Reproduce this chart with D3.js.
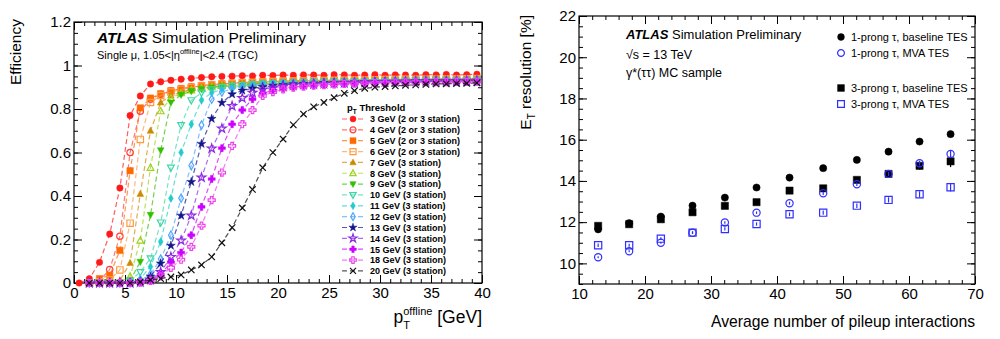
<!DOCTYPE html>
<html>
<head>
<meta charset="utf-8">
<script src="https://cdn.jsdelivr.net/npm/d3@7"></script>
<style>
  body { margin: 0; background: #fff; }
  svg { display: block; font-family: "Liberation Sans", Arial, Helvetica, sans-serif; }
</style>
</head>
<body>
<svg id="chart" width="1000" height="339"></svg>
<script>
// ---------------- left panel data: L1 muon trigger efficiency ----------------
const ptBins = [0.5, 1.5, 2.5, 3.5, 4.5, 5.5, 6.5, 7.5, 8.5, 9.5, 10.5, 11.5, 12.5, 13.5, 14.5, 15.5, 16.5, 17.5, 18.5, 19.5,
                20.5, 21.5, 22.5, 23.5, 24.5, 25.5, 26.5, 27.5, 28.5, 29.5, 30.5, 31.5, 32.5, 33.5, 34.5, 35.5, 36.5, 37.5, 38.5, 39.5];

const thresholdLabels = ['3 GeV (2 or 3 station)', '4 GeV (2 or 3 station)', '5 GeV (2 or 3 station)', '6 GeV (2 or 3 station)',
  '7 GeV (3 station)', '8 GeV (3 station)', '9 GeV (3 station)', '10 GeV (3 station)', '11 GeV (3 station)', '12 GeV (3 station)',
  '13 GeV (3 station)', '14 GeV (3 station)', '15 GeV (3 station)', '18 GeV (3 station)', '20 GeV (3 station)'];

const eff3  = [0, 0.02, 0.095, 0.225, 0.437, 0.77, 0.86, 0.915, 0.925, 0.932, 0.937, 0.941, 0.945, 0.948, 0.95, 0.951, 0.953, 0.952, 0.955, 0.954, 0.956, 0.955, 0.957, 0.956, 0.955, 0.958, 0.957, 0.955, 0.956, 0.958, 0.955, 0.957, 0.956, 0.955, 0.958, 0.957, 0.959, 0.956, 0.958, 0.96];
const eff4  = [null, 0, 0.01, 0.062, 0.215, 0.6, 0.79, 0.845, 0.868, 0.882, 0.892, 0.9, 0.906, 0.911, 0.915, 0.918, 0.921, 0.923, 0.925, 0.926, 0.928, 0.929, 0.93, 0.93, 0.931, 0.932, 0.932, 0.933, 0.934, 0.934, 0.935, 0.935, 0.936, 0.936, 0.937, 0.937, 0.938, 0.938, 0.939, 0.94];
const eff5  = [null, 0, 0.02, 0.035, 0.15, 0.516, 0.805, 0.85, 0.87, 0.884, 0.894, 0.902, 0.908, 0.912, 0.916, 0.919, 0.922, 0.924, 0.926, 0.927, 0.929, 0.93, 0.931, 0.931, 0.932, 0.933, 0.933, 0.934, 0.935, 0.935, 0.936, 0.936, 0.937, 0.937, 0.938, 0.938, 0.939, 0.939, 0.94, 0.941];
const eff6  = [null, 0, 0.005, 0.015, 0.06, 0.275, 0.66, 0.83, 0.862, 0.878, 0.89, 0.898, 0.905, 0.91, 0.914, 0.917, 0.92, 0.922, 0.924, 0.926, 0.927, 0.928, 0.929, 0.93, 0.931, 0.931, 0.932, 0.933, 0.933, 0.934, 0.935, 0.935, 0.936, 0.936, 0.937, 0.937, 0.938, 0.938, 0.939, 0.939];
const eff7  = [null, 0, 0, 0.005, 0.012, 0.092, 0.41, 0.7, 0.83, 0.862, 0.878, 0.889, 0.897, 0.903, 0.908, 0.912, 0.915, 0.918, 0.92, 0.922, 0.923, 0.925, 0.926, 0.927, 0.928, 0.928, 0.929, 0.93, 0.93, 0.931, 0.932, 0.932, 0.933, 0.933, 0.934, 0.934, 0.935, 0.935, 0.936, 0.936];
const eff8  = [null, 0, 0, 0, 0.005, 0.03, 0.195, 0.53, 0.79, 0.85, 0.873, 0.886, 0.895, 0.901, 0.906, 0.91, 0.913, 0.916, 0.918, 0.92, 0.922, 0.923, 0.924, 0.925, 0.926, 0.927, 0.928, 0.928, 0.929, 0.93, 0.93, 0.931, 0.931, 0.932, 0.932, 0.933, 0.933, 0.934, 0.934, 0.935];
const eff9  = [null, 0, 0, 0, 0.002, 0.012, 0.097, 0.313, 0.61, 0.83, 0.865, 0.882, 0.892, 0.899, 0.904, 0.908, 0.912, 0.915, 0.917, 0.919, 0.921, 0.922, 0.923, 0.924, 0.925, 0.926, 0.927, 0.928, 0.928, 0.929, 0.93, 0.93, 0.931, 0.931, 0.932, 0.932, 0.933, 0.933, 0.934, 0.934];
const eff10 = [null, 0, 0, 0, 0, 0.01, 0.05, 0.113, 0.278, 0.53, 0.726, 0.84, 0.875, 0.89, 0.9, 0.906, 0.91, 0.914, 0.916, 0.918, 0.92, 0.921, 0.923, 0.924, 0.925, 0.926, 0.926, 0.927, 0.928, 0.928, 0.929, 0.93, 0.93, 0.931, 0.931, 0.932, 0.932, 0.933, 0.933, 0.934];
const eff11 = [null, 0, 0, 0, 0, 0.005, 0.02, 0.075, 0.19, 0.389, 0.6, 0.73, 0.84, 0.875, 0.89, 0.899, 0.905, 0.91, 0.913, 0.916, 0.918, 0.92, 0.921, 0.922, 0.923, 0.924, 0.925, 0.926, 0.927, 0.927, 0.928, 0.929, 0.929, 0.93, 0.93, 0.931, 0.931, 0.932, 0.932, 0.933];
const eff12 = [null, 0, 0, 0, 0, 0, 0.01, 0.04, 0.11, 0.22, 0.39, 0.54, 0.726, 0.845, 0.878, 0.893, 0.901, 0.907, 0.911, 0.914, 0.917, 0.919, 0.92, 0.922, 0.923, 0.924, 0.925, 0.925, 0.926, 0.927, 0.927, 0.928, 0.929, 0.929, 0.93, 0.93, 0.931, 0.931, 0.932, 0.932];
const eff13 = [null, 0, 0, 0, 0, 0, 0.005, 0.03, 0.09, 0.172, 0.31, 0.465, 0.64, 0.755, 0.829, 0.868, 0.885, 0.895, 0.902, 0.907, 0.911, 0.914, 0.916, 0.918, 0.92, 0.921, 0.922, 0.923, 0.924, 0.925, 0.926, 0.926, 0.927, 0.928, 0.928, 0.929, 0.929, 0.93, 0.93, 0.931];
const eff14 = [null, 0, 0, 0, 0, 0, 0.003, 0.015, 0.05, 0.12, 0.195, 0.31, 0.485, 0.618, 0.71, 0.814, 0.85, 0.875, 0.89, 0.898, 0.904, 0.908, 0.912, 0.914, 0.916, 0.918, 0.92, 0.921, 0.922, 0.923, 0.924, 0.925, 0.925, 0.926, 0.927, 0.927, 0.928, 0.928, 0.929, 0.929];
const eff15 = [null, 0, 0, 0, 0, 0, 0.003, 0.012, 0.04, 0.095, 0.14, 0.22, 0.35, 0.478, 0.62, 0.73, 0.795, 0.845, 0.872, 0.886, 0.895, 0.901, 0.906, 0.909, 0.912, 0.914, 0.916, 0.917, 0.919, 0.92, 0.921, 0.922, 0.922, 0.923, 0.924, 0.924, 0.925, 0.925, 0.926, 0.926];
const eff18 = [null, 0, 0, 0, 0, 0, 0.002, 0.01, 0.03, 0.07, 0.107, 0.166, 0.264, 0.381, 0.508, 0.63, 0.73, 0.795, 0.86, 0.878, 0.89, 0.898, 0.903, 0.907, 0.91, 0.913, 0.915, 0.917, 0.918, 0.919, 0.92, 0.921, 0.922, 0.923, 0.923, 0.924, 0.924, 0.925, 0.925, 0.926];
const eff20 = [null, 0, 0, 0, 0, 0, 0.005, 0.014, 0.02, 0.028, 0.037, 0.06, 0.083, 0.12, 0.185, 0.255, 0.345, 0.43, 0.53, 0.6, 0.662, 0.727, 0.777, 0.81, 0.83, 0.852, 0.872, 0.884, 0.895, 0.9, 0.903, 0.906, 0.909, 0.911, 0.913, 0.915, 0.916, 0.917, 0.918, 0.92];

const effSeries = [eff3, eff4, eff5, eff6, eff7, eff8, eff9, eff10, eff11, eff12, eff13, eff14, eff15, eff18, eff20];

// ---------------- right panel data: tau ET resolution vs pileup ----------------
const muBins    = [12.9, 17.6, 22.4, 27.2, 32.1, 36.9, 41.9, 47.0, 52.1, 56.9, 61.6, 66.3];
const res1pBase = [11.65, 11.95, 12.27, 12.8, 13.19, 13.68, 14.16, 14.62, 15.02, 15.42, 15.91, 16.27];
const res1pMva  = [10.3, 10.59, 11.0, 11.49, 11.98, 12.46, 12.92, 13.4, 13.84, 14.34, 14.86, 15.31];
const res3pBase = [11.82, 11.9, 12.14, 12.48, 12.79, 12.97, 13.53, 13.64, 14.05, 14.34, 14.73, 14.95];
const res3pMva  = [10.88, 10.88, 11.2, 11.49, 11.67, 11.91, 12.38, 12.46, 12.8, 13.08, 13.35, 13.69];
const err1pBase = [0.05, 0.05, 0.05, 0.05, 0.06, 0.06, 0.07, 0.08, 0.09, 0.1, 0.12, 0.15];
const err1pMva  = [0.05, 0.05, 0.05, 0.05, 0.06, 0.06, 0.07, 0.08, 0.09, 0.1, 0.12, 0.16];
const err3pBase = [0.1, 0.08, 0.08, 0.08, 0.09, 0.1, 0.1, 0.11, 0.13, 0.15, 0.18, 0.28];
const err3pMva  = [0.08, 0.07, 0.07, 0.07, 0.08, 0.08, 0.09, 0.1, 0.11, 0.13, 0.15, 0.2];
const resLabels = ['1-prong τ, baseline TES', '1-prong τ, MVA TES', '3-prong τ, baseline TES', '3-prong τ, MVA TES'];

// ---------------- styles ----------------
const effColors  = ['#ff1a1a', '#ff4040', '#ff6a00', '#ff9a40', '#cc8a00', '#9fd11f', '#33c000', '#3fd6a8', '#22cccc', '#4da6ff',
                    '#14148c', '#8a2be2', '#cc00ff', '#ee44ee', '#111111'];
const effMarkers = ['circle', 'circleO', 'square', 'squareO', 'triUp', 'triUpO', 'triDown', 'triDownO', 'diamond', 'diamondO',
                    'star', 'starO', 'cross', 'crossO', 'x'];
const blue = '#2f2fff';

const svg = d3.select('#chart');

// marker path generator (ROOT-like marker shapes)
function markerPath(type, r) {
  const t = type.replace(/O$/, '');
  switch (t) {
    case 'circle': return d3.symbol(d3.symbolCircle, Math.PI * r * r)();
    case 'square': return `M${-r},${-r}h${2 * r}v${2 * r}h${-2 * r}Z`;
    case 'triUp': return `M0,${-r * 1.15}L${r * 1.05},${r * 0.8}L${-r * 1.05},${r * 0.8}Z`;
    case 'triDown': return `M0,${r * 1.15}L${r * 1.05},${-r * 0.8}L${-r * 1.05},${-r * 0.8}Z`;
    case 'diamond': return `M0,${-r * 1.3}L${r * 0.75},0L0,${r * 1.3}L${-r * 0.75},0Z`;
    case 'star': return d3.symbol(d3.symbolStar, r * r * 2.3)();
    case 'cross': {
      const w = r * 0.4, a = r * 1.1;
      return `M${-w},${-a}H${w}V${-w}H${a}V${w}H${w}V${a}H${-w}V${w}H${-a}V${-w}H${-w}Z`;
    }
    case 'x': return `M${-r},${-r}L${r},${r}M${-r},${r}L${r},${-r}`;
  }
}

function drawMarker(g, type, color, x, y, r) {
  const open = /O$/.test(type) || type === 'x';
  g.append('path')
    .attr('d', markerPath(type, r))
    .attr('transform', `translate(${x},${y})`)
    .attr('fill', open ? 'none' : color)
    .attr('stroke', color)
    .attr('stroke-width', open ? 1.2 : 0.5);
}

// frame with inside ticks on all four sides
function drawFrame(x, y, xMajor, xMinor, yMajor, yMinor, yFmt) {
  const [x0, x1] = x.range();
  const [y0, y1] = y.range();
  const g = svg.append('g');
  const clean = sel => {
    sel.select('.domain').remove();
    sel.attr('font-family', null).attr('font-size', 15);
    sel.selectAll('line').attr('stroke', '#000');
    sel.selectAll('text').attr('fill', '#000');
  };

  g.append('g').attr('transform', `translate(0,${y0})`)
    .call(d3.axisBottom(x).tickValues(xMinor).tickSize(-4).tickFormat('')).call(clean);
  g.append('g').attr('transform', `translate(0,${y0})`)
    .call(d3.axisBottom(x).tickValues(xMajor).tickSize(-8).tickPadding(4).tickFormat(d3.format('d'))).call(clean);
  g.append('g').attr('transform', `translate(0,${y1})`)
    .call(d3.axisTop(x).tickValues(xMinor).tickSize(-4).tickFormat('')).call(clean);
  g.append('g').attr('transform', `translate(0,${y1})`)
    .call(d3.axisTop(x).tickValues(xMajor).tickSize(-8).tickFormat('')).call(clean);

  g.append('g').attr('transform', `translate(${x0},0)`)
    .call(d3.axisLeft(y).tickValues(yMinor).tickSize(-4).tickFormat('')).call(clean);
  g.append('g').attr('transform', `translate(${x0},0)`)
    .call(d3.axisLeft(y).tickValues(yMajor).tickSize(-8).tickPadding(3).tickFormat(yFmt)).call(clean);
  g.append('g').attr('transform', `translate(${x1},0)`)
    .call(d3.axisRight(y).tickValues(yMinor).tickSize(-4).tickFormat('')).call(clean);
  g.append('g').attr('transform', `translate(${x1},0)`)
    .call(d3.axisRight(y).tickValues(yMajor).tickSize(-8).tickFormat('')).call(clean);

  g.append('rect')
    .attr('x', x0).attr('y', y1)
    .attr('width', x1 - x0).attr('height', y0 - y1)
    .attr('fill', 'none').attr('stroke', '#000').attr('stroke-width', 1.2);
}

// ================= LEFT PANEL =================
const xL = d3.scaleLinear().domain([0, 40]).range([74, 482]);
const yL = d3.scaleLinear().domain([0, 1.2]).range([283, 22]);

drawFrame(xL, yL,
  [0, 5, 10, 15, 20, 25, 30, 35, 40], d3.range(0, 41, 1),
  [0, 0.2, 0.4, 0.6, 0.8, 1, 1.2], d3.range(0, 1.201, 0.05),
  d3.format('~g'));

const line = d3.line()
  .defined(d => d[1] !== null)
  .x(d => xL(d[0]))
  .y(d => yL(d[1]));

const curves = svg.append('g');
effSeries.forEach((vals, i) => {
  const pts = ptBins.map((p, j) => [p, vals[j]]);
  const cg = curves.append('g');
  cg.append('path')
    .attr('d', line(pts))
    .attr('fill', 'none')
    .attr('stroke', effColors[i])
    .attr('stroke-opacity', i === 14 ? 0.75 : 0.7)
    .attr('stroke-width', 1.2)
    .attr('stroke-dasharray', '5,3');
  pts.filter(d => d[1] !== null).forEach(d => {
    drawMarker(cg, effMarkers[i], effColors[i], xL(d[0]), yL(d[1]), 3.2);
  });
});

// labels
const atlasL = svg.append('text').attr('x', 97).attr('y', 43).attr('font-size', 15.5);
atlasL.append('tspan').attr('font-weight', 'bold').attr('font-style', 'italic').text('ATLAS');
atlasL.append('tspan').text(' Simulation Preliminary');

const selL = svg.append('text').attr('x', 97).attr('y', 59).attr('font-size', 11);
selL.append('tspan').text('Single μ, 1.05<|η');
selL.append('tspan').attr('font-size', 7.5).attr('dy', -5).text('offline');
selL.append('tspan').attr('font-size', 11).attr('dy', 5).text('|<2.4 (TGC)');

svg.append('text')
  .attr('transform', 'translate(21,19) rotate(-90)')
  .attr('text-anchor', 'end')
  .attr('font-size', 15.5)
  .text('Efficiency');

const xTitleL = svg.append('text').attr('x', 482).attr('y', 323).attr('text-anchor', 'end').attr('font-size', 17.5);
xTitleL.append('tspan').text('p');
xTitleL.append('tspan').attr('font-size', 11).attr('dy', -8).text('offline');
xTitleL.append('tspan').attr('dy', 8).text(' [GeV]');
const subPos = xTitleL.node().getStartPositionOfChar(1);
svg.append('text').attr('x', subPos.x).attr('y', 329).attr('font-size', 11).text('T');

// legend
const legL = svg.append('g').attr('font-weight', 'bold');
const hdr = legL.append('text').attr('x', 347).attr('y', 111).attr('font-size', 9.5);
hdr.append('tspan').text('p');
hdr.append('tspan').attr('font-size', 6.5).attr('dy', 3).text('T');
hdr.append('tspan').attr('dy', -3).text(' Threshold');

thresholdLabels.forEach((lab, i) => {
  const cy = 119 + i * 10.85;
  legL.append('line')
    .attr('x1', 342).attr('x2', 364).attr('y1', cy).attr('y2', cy)
    .attr('stroke', effColors[i]).attr('stroke-opacity', 0.7)
    .attr('stroke-width', 1.2).attr('stroke-dasharray', '5,3');
  drawMarker(legL, effMarkers[i], effColors[i], 353, cy, 3);
  legL.append('text').attr('x', 370).attr('y', cy + 3.3).attr('font-size', 9).text(lab);
});

// ================= RIGHT PANEL =================
const xR = d3.scaleLinear().domain([10, 70]).range([579, 975]);
const yR = d3.scaleLinear().domain([9, 22]).range([284, 16]);

drawFrame(xR, yR,
  [10, 20, 30, 40, 50, 60, 70], d3.range(10, 71, 2),
  [10, 12, 14, 16, 18, 20, 22], d3.range(9, 22.01, 0.5),
  d3.format('d'));

const resSets = [
  { vals: res1pBase, errs: err1pBase, type: 'circle', color: '#000' },
  { vals: res3pBase, errs: err3pBase, type: 'square', color: '#000' },
  { vals: res1pMva, errs: err1pMva, type: 'circleO', color: blue },
  { vals: res3pMva, errs: err3pMva, type: 'squareO', color: blue }
];
const pointsR = svg.append('g');
resSets.forEach(s => {
  muBins.forEach((m, j) => {
    pointsR.append('line')
      .attr('x1', xR(m)).attr('x2', xR(m))
      .attr('y1', yR(s.vals[j] - s.errs[j])).attr('y2', yR(s.vals[j] + s.errs[j]))
      .attr('stroke', s.color).attr('stroke-width', 1.2);
    drawMarker(pointsR, s.type, s.color, xR(m), yR(s.vals[j]), 3.6);
  });
});

const atlasR = svg.append('text').attr('x', 626).attr('y', 39).attr('font-size', 13);
atlasR.append('tspan').attr('font-weight', 'bold').attr('font-style', 'italic').text('ATLAS');
atlasR.append('tspan').text(' Simulation Preliminary');
svg.append('text').attr('x', 626).attr('y', 59).attr('font-size', 12.5).text('√s = 13 TeV');
svg.append('text').attr('x', 626).attr('y', 77).attr('font-size', 12.5).text('γ*(ττ) MC sample');

// legend
const legR = svg.append('g');
const legRows = [
  { y: 37, type: 'circle', color: '#000' },
  { y: 53, type: 'circleO', color: blue },
  { y: 88, type: 'square', color: '#000' },
  { y: 104, type: 'squareO', color: blue }
];
legRows.forEach((r, i) => {
  drawMarker(legR, r.type, r.color, 841, r.y, 3.4);
  legR.append('text').attr('x', 851).attr('y', r.y + 4).attr('font-size', 11).text(resLabels[i]);
});

const yTitleR = svg.append('text')
  .attr('transform', 'translate(531,15) rotate(-90)')
  .attr('text-anchor', 'end')
  .attr('font-size', 15.5);
yTitleR.append('tspan').text('E');
yTitleR.append('tspan').attr('font-size', 10).attr('dy', 4).text('T');
yTitleR.append('tspan').attr('dy', -4).text(' resolution [%]');

svg.append('text').attr('x', 975).attr('y', 327).attr('text-anchor', 'end').attr('font-size', 15.7)
  .text('Average number of pileup interactions');
</script>
</body>
</html>
